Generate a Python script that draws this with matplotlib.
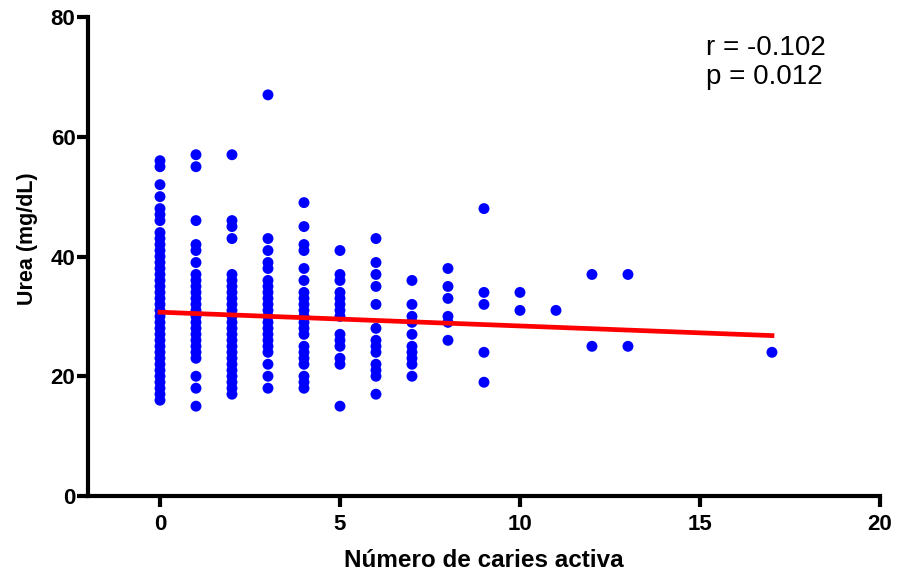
import matplotlib
matplotlib.use("Agg")
import matplotlib.pyplot as plt
import numpy as np

# Urea (mg/dL) por número de caries activas
urea_por_caries = {
    0: list(range(16, 45)) + [46, 47, 48, 50, 52, 55, 56],
    1: [15, 18, 20] + list(range(23, 38)) + [39, 41, 42, 46, 55, 57],
    2: list(range(17, 38)) + [43, 45, 46, 57],
    3: [18, 20, 22] + list(range(24, 37)) + [38, 39, 41, 43, 67],
    4: [18, 19, 20, 22, 23, 24, 25] + list(range(27, 35)) + [36, 38, 41, 42, 45, 49],
    5: [15, 22, 23, 25, 26, 27, 30, 31, 32, 33, 34, 36, 37, 41],
    6: [17, 20, 21, 22, 24, 25, 26, 28, 32, 35, 37, 39, 43],
    7: [20, 22, 23, 24, 25, 27, 29, 30, 32, 36],
    8: [26, 29, 30, 33, 35, 38],
    9: [19, 24, 32, 34, 48],
    10: [31, 34],
    11: [31],
    12: [25, 37],
    13: [25, 37],
    17: [24],
}

# Recta de regresión lineal
intercepto = 30.7
pendiente = -0.23
r_valor = -0.102
p_valor = 0.012

caries = np.concatenate([[k] * len(v) for k, v in urea_por_caries.items()])
urea = np.concatenate([v for v in urea_por_caries.values()])

plt.rcParams['font.family'] = ['Liberation Sans', 'DejaVu Sans']

fig = plt.figure(figsize=(8.97, 5.73), dpi=100)
ax = fig.add_axes([0.0981, 0.1344, 0.8829, 0.8359])

ax.scatter(caries, urea, s=62, color='#0000FF', edgecolors='none', zorder=2)

x_linea = np.array([0, caries.max()])
ax.plot(x_linea, intercepto + pendiente * x_linea, color='#FF0000', linewidth=3.4, zorder=3)

ax.set_xlim(-2, 20)
ax.set_ylim(0, 80)
ax.set_xticks([0, 5, 10, 15, 20])
ax.set_yticks([0, 20, 40, 60, 80])

for lado in ['top', 'right']:
    ax.spines[lado].set_visible(False)
for lado in ['left', 'bottom']:
    ax.spines[lado].set_linewidth(3)

ax.tick_params(axis='both', width=3, length=8, labelsize=16)
ax.tick_params(axis='x', pad=5)
ax.tick_params(axis='y', pad=1)
for etiqueta in ax.get_xticklabels() + ax.get_yticklabels():
    etiqueta.set_fontweight('bold')

ax.set_xlabel('Número de caries activa', fontsize=17.5, fontweight='bold', labelpad=10)
ax.set_ylabel('Urea (mg/dL)', fontsize=15.5, fontweight='bold')
ax.yaxis.set_label_coords(-0.063, 0.5376)

ax.text(0.78, 0.962, f'r = {r_valor}\np = {p_valor}', transform=ax.transAxes,
        fontsize=20, va='top', ha='left', linespacing=1.12)

fig.savefig('out.png', dpi=100)
